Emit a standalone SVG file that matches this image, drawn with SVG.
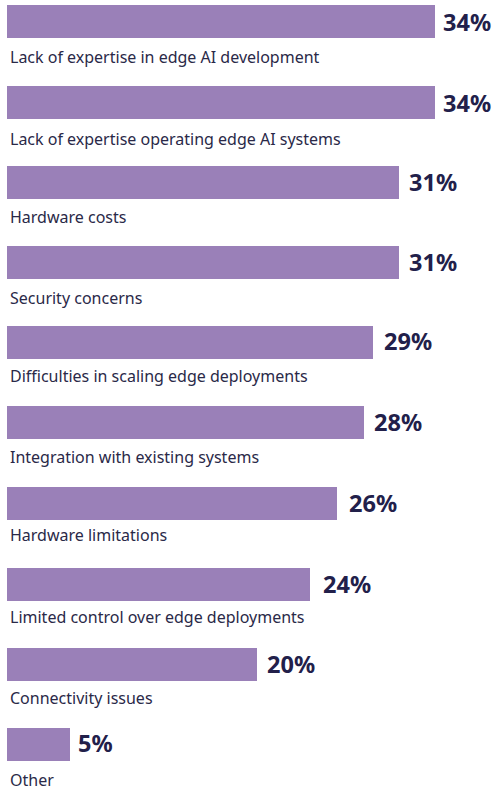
<svg xmlns="http://www.w3.org/2000/svg" width="495" height="792" viewBox="0 0 495 792">
<style>
.bar{fill:#9a80b8}
.pct{font-family:"Noto Sans","Open Sans",sans-serif;font-weight:bold;font-size:23.5px;fill:#22204a}
.lbl{font-family:"Noto Sans","Open Sans",sans-serif;font-size:16px;fill:#2a2948}
</style>
<rect width="495" height="792" fill="#ffffff"/>
<g id="row1"><rect class="bar" x="7" y="5" width="428" height="33"/><text class="pct" x="443" y="31">34%</text><text class="lbl" x="10" y="63">Lack of expertise in edge AI development</text></g>
<g id="row2"><rect class="bar" x="7" y="86" width="428" height="33"/><text class="pct" x="443" y="111.5">34%</text><text class="lbl" x="10" y="145">Lack of expertise operating edge AI systems</text></g>
<g id="row3"><rect class="bar" x="7" y="166" width="392" height="33"/><text class="pct" x="409" y="190.5">31%</text><text class="lbl" x="10" y="223">Hardware costs</text></g>
<g id="row4"><rect class="bar" x="7" y="246" width="392" height="33"/><text class="pct" x="409" y="271">31%</text><text class="lbl" x="10" y="304">Security concerns</text></g>
<g id="row5"><rect class="bar" x="7" y="326" width="366" height="33"/><text class="pct" x="384" y="350">29%</text><text class="lbl" x="10" y="382">Difficulties in scaling edge deployments</text></g>
<g id="row6"><rect class="bar" x="7" y="406" width="357" height="33"/><text class="pct" x="374" y="431">28%</text><text class="lbl" x="10" y="463">Integration with existing systems</text></g>
<g id="row7"><rect class="bar" x="7" y="487" width="330" height="33"/><text class="pct" x="349" y="512">26%</text><text class="lbl" x="10" y="541">Hardware limitations</text></g>
<g id="row8"><rect class="bar" x="7" y="568" width="303" height="33"/><text class="pct" x="323" y="593">24%</text><text class="lbl" x="10" y="623">Limited control over edge deployments</text></g>
<g id="row9"><rect class="bar" x="7" y="648" width="250" height="33"/><text class="pct" x="267" y="673">20%</text><text class="lbl" x="10" y="704">Connectivity issues</text></g>
<g id="row10"><rect class="bar" x="7" y="728" width="63" height="33"/><text class="pct" x="78" y="752">5%</text><text class="lbl" x="10" y="785.5">Other</text></g>
<g id="connectors"></g>
</svg>
